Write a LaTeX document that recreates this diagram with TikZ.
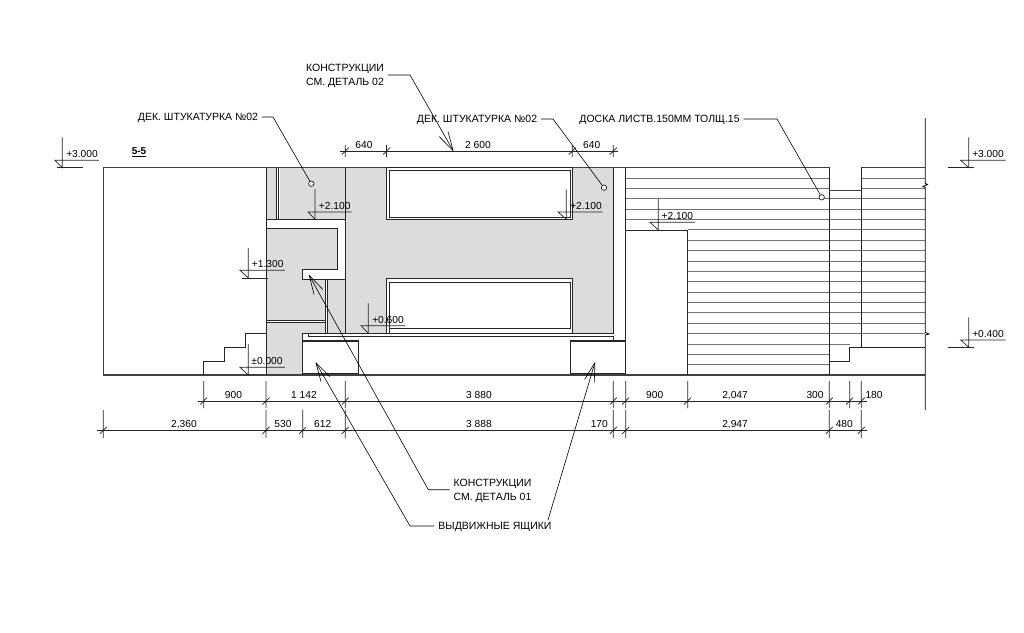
\documentclass[tikz,border=0pt]{standalone}
\usepackage{fontspec}
\setmainfont{Liberation Sans}
\usetikzlibrary{arrows.meta}
\definecolor{wallgrey}{RGB}{220,220,220}
\tikzset{
    dimtext/.style={inner sep=0pt,text height=7.3pt,text depth=0pt,font=\fontsize{10.2}{12}\selectfont},
    calltext/.style={dimtext,align=center,outer sep=4pt,font=\fontsize{10.5}{13.5}\selectfont},
    twolines/.style={calltext,text height=20.8pt},
    leader/.style={line width=0.6pt},
    leadertip/.style={leader,-{Straight Barb[length=19pt,width=10pt,round=false]}},
    ringmark/.style={circle,draw,fill=white,line width=0.6pt,inner sep=0pt,minimum size=5.4pt},
    wall/.style={line width=0.8pt,black!85},
    hatchline/.style={line width=0.8pt,black!55},
    dimline/.style={line width=0.7pt,black!85}
}
\begin{document}
\begin{tikzpicture}[x=1pt,y=-1pt]
    \useasboundingbox[fill=white] (0,0) rectangle (1024,632);

    % grey masonry and the white cuts in it
    \fill[wallgrey] (266,167.7) -- (613.3,167.7) -- (613.3,333.3) -- (302.7,333.3) -- (302.7,375) -- (266,375) -- cycle;
    \filldraw[white] (276,168.5) rectangle (278.7,219);
    \filldraw[fill=white,draw=white] (266,219.3) -- (345.3,219.3) -- (345.3,279) -- (302.7,279) -- (302.7,269.5) -- (337.7,269.5) -- (337.7,228) -- (266,228) -- cycle;
    \fill[white] (325,279) rectangle (327.3,333);
    \fill[white] (266.5,320) rectangle (325,322.5);

    % cladding lines, spaced 10.365 apart
    \foreach \k in {1,2}
        \draw[hatchline] (625.7,167.7+10.365*\k) -- (829.3,167.7+10.365*\k) (861.3,167.7+10.365*\k) -- (925.3,167.7+10.365*\k);
    \foreach \k in {3,...,5}
        \draw[hatchline] (625.7,167.7+10.365*\k) -- (925.3,167.7+10.365*\k);
    \foreach \k in {6,...,16}
        \draw[hatchline] (687.7,167.7+10.365*\k) -- (925.3,167.7+10.365*\k);
    \draw[hatchline] (687.7,167.7+10.365*17) -- (849.7,167.7+10.365*17);
    \foreach \k in {18,19}
        \draw[hatchline] (687.7,167.7+10.365*\k) -- (829.3,167.7+10.365*\k);

    % outline
    \draw[wall,line width=1.1pt,black!75] (103.3,375) -- (103.3,167.7) -- (829.3,167.7) -- (829.3,190.7) -- (861.3,190.7) -- (861.3,167.7) -- (925.3,167.7);
    \draw[wall,line width=1.1pt,black!75] (103.3,375) -- (925.3,375);
    \draw[wall] (266,167.7) -- (266,375);
    \draw[wall] (276,167.7) -- (276,219.3) (278.7,167.7) -- (278.7,219.3);
    \draw[wall] (266,219.3) -- (345.3,219.3) (345.3,167.7) -- (345.3,333.3);
    \draw[wall] (266,228) -- (337.7,228) -- (337.7,269.5) -- (302.7,269.5) -- (302.7,279) -- (345.3,279);
    \draw[wall] (325,279) -- (325,333.3) (327.3,279) -- (327.3,333.3);
    \draw[wall] (266,320) -- (325,320) (266,322.5) -- (325,322.5);

    % stairs
    \draw[wall] (266,333.3) -- (245.3,333.3) -- (245.3,347.3) -- (224.3,347.3) -- (224.3,361.3) -- (203.7,361.3) -- (203.7,375);

    % windows
    \draw[wall,fill=white] (386.5,167.7) rectangle (572.3,219.2);
    \draw[wall] (389.5,170.5) rectangle (570.7,217);
    \draw[wall,fill=white] (386.5,333.3) -- (386.5,278.3) -- (572.3,278.3) -- (572.3,333.3);
    \draw[wall] (389.5,333.3) -- (389.5,282) -- (570.7,282) -- (570.7,328.5) -- (389.5,328.5);

    % shelf and drawers
    \draw[wall] (302.7,333.3) -- (613.3,333.3) -- (613.3,167.7);
    \draw[wall] (308,333.3) -- (308,336.4) -- (613.3,336.4) -- (613.3,341);
    \draw[wall] (302.7,333.3) -- (302.7,375);
    \draw[wall,line width=1.2pt] (303,341) -- (358.5,341);
    \draw[wall] (358.5,341) -- (358.5,373.3) -- (303,373.3);
    \draw[wall,line width=1.2pt] (570.3,341) -- (625.7,341);
    \draw[wall] (570.3,341) -- (570.3,373.5) -- (625.7,373.5);
    \draw[wall] (625.7,167.7) -- (625.7,373.5);
    \draw[wall,fill=white] (625.7,230) -- (687.7,230) -- (687.7,375);

    % right part
    \draw[wall] (829.3,167.7) -- (829.3,375);
    \draw[wall] (861.3,167.7) -- (861.3,347.3);
    \draw[wall] (829.3,361.3) -- (849.7,361.3) -- (849.7,347.3) -- (925.3,347.3);
    \draw[wall,black] (925.3,118) -- (925.3,183.5) -- (927.5,184.5) -- (923,186.5) -- (925.3,187.5) -- (925.3,332.5) -- (929,334) -- (925.3,335) -- (925.3,410);

    % dimension rows
    \def\rowa{{345.3,386.5,572.3,613.3}}
    \draw[dimline] (340,151) -- (618,151);
    \foreach \i in {0,...,3}
        \draw[dimline] (\rowa[\i],145) -- (\rowa[\i],157) (\rowa[\i]-3.5,154.5) -- (\rowa[\i]+3.5,147.5);

    \def\rowb{{203.7,266,345.3,613.3,625.7,687.7,829.3,849.7,861.3}}
    \draw[dimline] (198,401) -- (867,401);
    \foreach \i in {0,...,8}
        \draw[dimline] (\rowb[\i],381) -- (\rowb[\i],408) (\rowb[\i]-3.5,404.5) -- (\rowb[\i]+3.5,397.5);

    \def\rowc{{103.3,266,302.7,345.3,613.3,625.7,829.3,861.3}}
    \draw[dimline] (97,430.3) -- (867,430.3);
    \foreach \i in {0,...,7}
        \draw[dimline] (\rowc[\i],410) -- (\rowc[\i],438) (\rowc[\i]-3.5,433.8) -- (\rowc[\i]+3.5,426.8);

    \foreach \n/\x/\y/\t in {da/364/145/640,db/478/145/2 600,dc/591.7/145/640,
        ea/233.5/395/900,eb/304/395/1 142,ec/479/395/3 880,ed/654.7/395/900,ee/735/395/{2,047},ef/815/395/300,eg/874/395/180,
        fa/184/424/{2,360},fb/283/424/530,fc/322.7/424/612,fd/479/424/3 888,fe/599.3/424/170,ff/735/424/{2,947},fg/844.3/424/480}
        \node[dimtext] (\n) at (\x,\y) {\t};

    % level marks: x of stem, top of stem, y of shelf, y of base, left, right, text
    \foreach \n/\x/\t/\s/\b/\l/\r/\m/\v in {
        la/62.3/137.3/160.3/167.7/55/99/82/+3.000,
        lb/315/189/212/219.3/308/351.7/334.7/+2.100,
        lc/248.3/248/270.3/278/240/285/267.7/+1.300,
        ld/248.3/344/367.3/375/240/285/267/±0.000,
        le/368.3/303.3/325.7/333.3/361/405/388/+0.600,
        lf/566.3/189.3/212/219.3/558/602.7/586/+2.100,
        lg/658.3/199/222.3/230/650/695/677.3/+2.100,
        lh/968.7/137.3/160.3/167.7/960.7/1005.7/988/+3.000,
        li/968.7/317.3/340/347.3/960.7/1005.7/988/+0.400}
    {
        \draw[dimline] (\x,\t) -- (\x,\b) -- (\l,\s) -- (\r,\s);
        \node[dimtext] (\n) at (\m,\s-6) {\v};
    }
    \draw[dimline] (56.7,167.7) -- (83,167.7);
    \draw[dimline] (242,278) -- (268,278);
    \draw[dimline] (948,167.7) -- (974,167.7);
    \draw[dimline] (948,347.3) -- (974,347.3);

    % section title
    \node[dimtext,font=\fontsize{10}{12}\selectfont\bfseries] (title) at (139,151) {5-5};
    \draw[line width=0.7pt] ([yshift=-1.2pt]title.south west) -- ([yshift=-1.2pt]title.south east);

    % notes
    \node[calltext] (dekA) at (198,117) {ДЕК. ШТУКАТУРКА №02};
    \node[calltext] (dekB) at (477,119) {ДЕК. ШТУКАТУРКА №02};
    \node[calltext] (oak) at (659.5,119) {ДОСКА ЛИСТВ.150ММ ТОЛЩ.15};
    \node[twolines] (detTwo) at (345,75) {КОНСТРУКЦИИ\\СМ. ДЕТАЛЬ 02};
    \node[twolines] (detOne) at (492.5,489.7) {КОНСТРУКЦИИ\\СМ. ДЕТАЛЬ 01};
    \node[calltext] (drawers) at (495,526) {ВЫДВИЖНЫЕ ЯЩИКИ};

    \node[ringmark] (ringA) at (311.3,183.7) {};
    \node[ringmark] (ringB) at (604,187.7) {};
    \node[ringmark] (ringC) at (821.7,197.3) {};

    \coordinate (bendA) at (273,117);
    \coordinate (bendB) at (553,119);
    \coordinate (bendC) at (777,119);
    \coordinate (bendD) at (410,75);
    \coordinate (bendE) at (428.3,489.7);
    \coordinate (bendF) at (410,526);
    \coordinate (tipD) at (453.3,151);
    \coordinate (tipE) at (309,275);
    \coordinate (tipF) at (315.7,362.3);
    \coordinate (tipG) at (595,362.3);
    \coordinate (footG) at (548,520);

    \draw[leader] (dekA) -- (bendA) -- (ringA);
    \draw[leader] (dekB) -- (bendB) -- (ringB);
    \draw[leader] (oak) -- (bendC) -- (ringC);
    \draw[leadertip] (detTwo) -- (bendD) -- (tipD);
    \draw[leadertip] (detOne) -- (bendE) -- (tipE);
    \draw[leadertip] (drawers) -- (bendF) -- (tipF);
    \draw[leadertip] (footG) -- (tipG);
\end{tikzpicture}
\end{document}
